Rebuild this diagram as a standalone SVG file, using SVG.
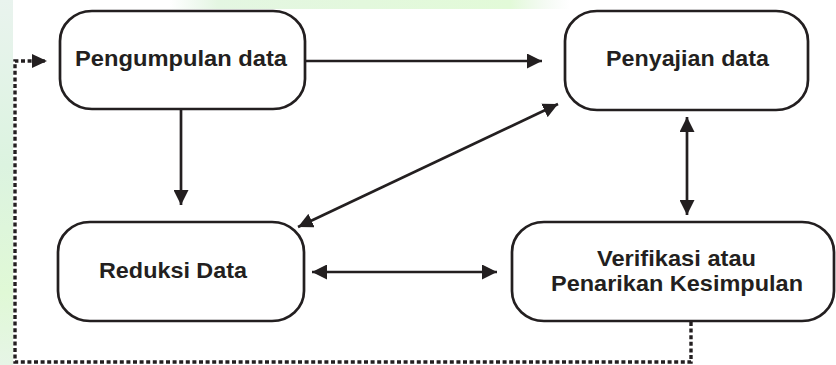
<svg xmlns="http://www.w3.org/2000/svg" width="836" height="365" viewBox="0 0 836 365">
  <defs>
    <linearGradient id="topg" x1="0" y1="0" x2="1" y2="0">
      <stop offset="0" stop-color="#e2f3e4" stop-opacity="0"/>
      <stop offset="0.12" stop-color="#e4f6e2"/>
      <stop offset="0.85" stop-color="#e2fad8"/>
      <stop offset="1" stop-color="#e8f2ea" stop-opacity="0"/>
    </linearGradient>
    <linearGradient id="leftg" x1="0" y1="0" x2="0" y2="1">
      <stop offset="0" stop-color="#e9f3ee"/>
      <stop offset="0.45" stop-color="#dcf3e0"/>
      <stop offset="0.8" stop-color="#e0f9d6"/>
      <stop offset="1" stop-color="#e6f5e6"/>
    </linearGradient>
    <marker id="ah" markerUnits="userSpaceOnUse" markerWidth="16" markerHeight="15" refX="15" refY="7.5" orient="auto-start-reverse" viewBox="0 0 16 15">
      <path d="M0,0 L15,7.5 L0,15 Z" fill="#231f20"/>
    </marker>
    <marker id="ahs" markerUnits="userSpaceOnUse" markerWidth="16" markerHeight="14" refX="15" refY="7" orient="auto" viewBox="0 0 16 14">
      <path d="M0,0 L15,7 L0,14 Z" fill="#231f20"/>
    </marker>
  </defs>
  <style>
    .node { fill: #ffffff; stroke: #231f20; stroke-width: 2.7; }
    .lbl { font-family: "Liberation Sans", Arial, sans-serif; font-weight: bold; font-size: 22px; fill: #231f20; }
    .c { stroke: #231f20; stroke-width: 2.7; fill: none; }
    .dot { stroke: #231f20; stroke-width: 3.4; fill: none; stroke-dasharray: 4 2.6; }
  </style>
  <rect width="836" height="365" fill="#ffffff"/>
  <rect x="170" y="0" width="400" height="9" fill="url(#topg)"/>
  <rect x="0" y="0" width="13" height="365" fill="url(#leftg)"/>

  <g id="connectors">
    <line class="c" x1="305" y1="61" x2="542" y2="61" marker-end="url(#ah)"/>
    <line class="c" x1="181" y1="109" x2="181" y2="205" marker-end="url(#ah)"/>
    <line class="c" x1="298" y1="227" x2="558" y2="104" marker-start="url(#ah)" marker-end="url(#ah)"/>
    <line class="c" x1="687" y1="117" x2="687" y2="215" marker-start="url(#ah)" marker-end="url(#ah)"/>
    <line class="c" x1="312" y1="272" x2="497" y2="272" marker-start="url(#ah)" marker-end="url(#ah)"/>
    <polyline class="dot" points="691,322 691,362 15,362 15,61 47,61" marker-end="url(#ahs)"/>
  </g>

  <g id="pengumpulan">
    <rect class="node" x="60" y="11" width="245" height="98" rx="32" ry="30"/>
    <text class="lbl" x="75" y="65.5" textLength="212" lengthAdjust="spacingAndGlyphs">Pengumpulan data</text>
  </g>
  <g id="penyajian">
    <rect class="node" x="565" y="11" width="243" height="99" rx="32" ry="30"/>
    <text class="lbl" x="606" y="66" textLength="163" lengthAdjust="spacingAndGlyphs">Penyajian data</text>
  </g>
  <g id="reduksi">
    <rect class="node" x="58" y="222" width="246" height="99" rx="32" ry="30"/>
    <text class="lbl" x="99" y="278" textLength="148" lengthAdjust="spacingAndGlyphs">Reduksi Data</text>
  </g>
  <g id="verifikasi">
    <rect class="node" x="512" y="222" width="322" height="99" rx="32" ry="30"/>
    <text class="lbl" x="597" y="266" textLength="159" lengthAdjust="spacingAndGlyphs">Verifikasi atau</text>
    <text class="lbl" x="551" y="291" textLength="252" lengthAdjust="spacingAndGlyphs">Penarikan Kesimpulan</text>
  </g>
</svg>
